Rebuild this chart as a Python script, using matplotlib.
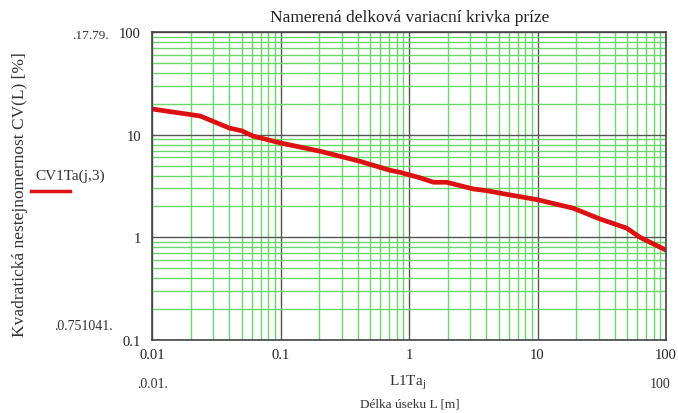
import matplotlib
matplotlib.use("Agg")
import matplotlib.pyplot as plt
from matplotlib.ticker import LogLocator, NullFormatter, FixedLocator, FixedFormatter

plt.rcParams['font.family'] = ['Liberation Serif', 'DejaVu Serif']

# Data
L = [0.01, 0.0237, 0.040, 0.050, 0.061, 0.10, 0.203, 0.416, 0.71, 0.85, 1.22, 1.55, 1.96,
     3.16, 4.0, 6.1, 9.9, 19.0, 30.6, 49.4, 62.8, 100]
CV = [17.79, 15.2, 11.6, 10.9, 9.7, 8.3, 6.9, 5.5, 4.5, 4.3, 3.8, 3.44, 3.44,
      2.96, 2.85, 2.59, 2.33, 1.92, 1.51, 1.23, 1.0, 0.751041]

xticks = [0.01, 0.1, 1, 10, 100]
xticklabels = ["0.01", "0.1", "1", "10", "100"]
yticks = [0.1, 1, 10, 100]
yticklabels = ["0.1", "1", "10", "100"]

title = "Namerená delková variacní krivka príze"
ylabel = "Kvadratická nestejnomernost CV(L) [%]"
xlabel = "Délka úseku L [m]"
legend_label = "CV1Ta(j,3)"

fig = plt.figure(figsize=(6.78, 4.14), dpi=100)
ax = fig.add_axes([152/678, 1-341/414, (666-152)/678, (341-33)/414])
ax.set_xscale('log')
ax.set_yscale('log')
ax.set_xlim(0.01, 100)
ax.set_ylim(0.1, 100)

ax.xaxis.set_minor_locator(LogLocator(base=10, subs=range(2, 10)))
ax.yaxis.set_minor_locator(LogLocator(base=10, subs=range(2, 10)))
ax.xaxis.set_minor_formatter(NullFormatter())
ax.yaxis.set_minor_formatter(NullFormatter())
ax.xaxis.set_major_locator(FixedLocator(xticks))
ax.xaxis.set_major_formatter(FixedFormatter(xticklabels))
ax.yaxis.set_major_locator(FixedLocator(yticks))
ax.yaxis.set_major_formatter(FixedFormatter(yticklabels))

ax.grid(which='minor', color='#66d966', linewidth=1.0)
ax.grid(which='major', color='#555555', linewidth=1.0)
ax.set_axisbelow(True)
ax.tick_params(which='both', length=0, labelsize=10.5, colors='#222222')
ax.tick_params(axis='x', pad=6)
ax.tick_params(axis='y', pad=8)
for s in ax.spines.values():
    s.set_color('#444444')
    s.set_linewidth(1.2)

ax.plot(L, CV, color='#dd1111', linewidth=3.4, solid_capstyle='round')

fig.text(410/678, 1-18/414, title, ha='center', va='center', fontsize=12.5, color='#222222')
fig.text(20/678, 1-195/414, ylabel, ha='center', va='center', rotation=90, fontsize=12.5, color='#333333')
fig.text(70/678, 1-176/414, legend_label, ha='center', va='center', fontsize=11, color='#333333')
fig.add_artist(plt.Line2D([31/678, 70/678], [1-192/414, 1-192/414], color='#dd1111', linewidth=2.5,
                          transform=fig.transFigure))
fig.text(90/678, 1-36/414, ".17.79.", ha='center', va='center', fontsize=9.5, color='#333333')
fig.text(83/678, 1-326/414, ".0.751041.", ha='center', va='center', fontsize=10, color='#333333')
fig.text(153/678, 1-385/414, ".0.01.", ha='center', va='center', fontsize=10, color='#333333')
fig.text(660/678, 1-385/414, "100", ha='center', va='center', fontsize=10, color='#333333')
fig.text(408/678, 1-383/414, r"L1Ta$_{\mathregular{j}}$", ha='center', va='center', fontsize=11, color='#333333')
fig.text(410/678, 1-405/414, xlabel, ha='center', va='center', fontsize=9.5, color='#333333')

fig.savefig("out.png", dpi=100)
